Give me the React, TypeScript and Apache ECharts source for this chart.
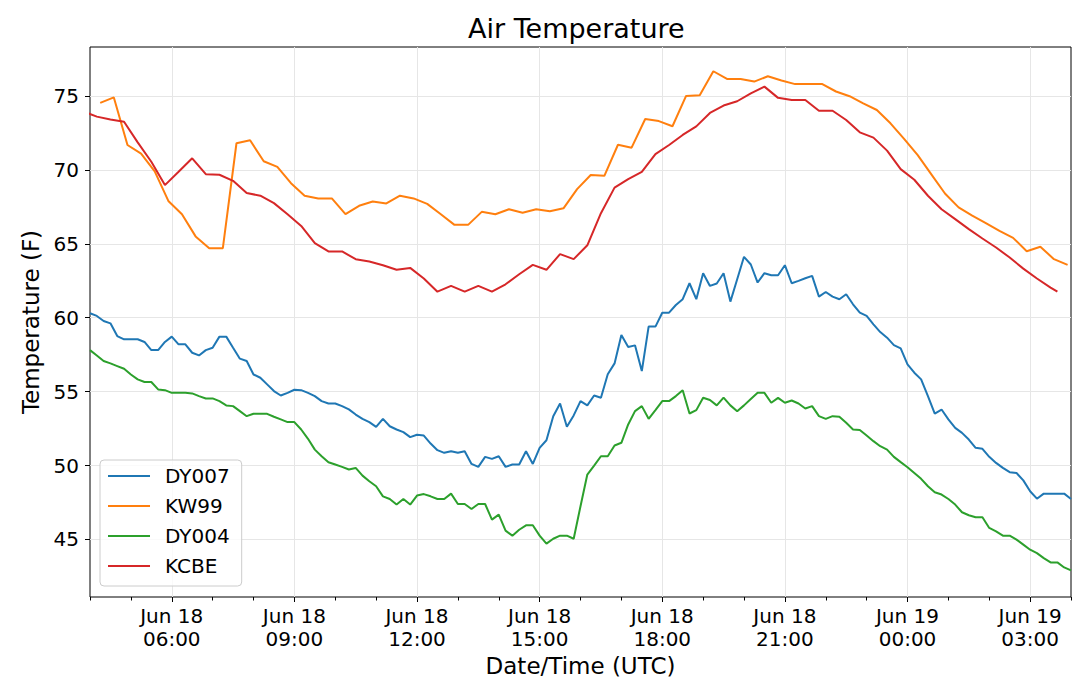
import { useEffect, useRef } from 'react'
import * as echarts from 'echarts'

// hours are counted from Jun 18 00:00 UTC
const BASE = Date.UTC(2019, 5, 18)
const HOUR = 3600 * 1000
const MONTHS = ['Jan', 'Feb', 'Mar', 'Apr', 'May', 'Jun', 'Jul', 'Aug', 'Sep', 'Oct', 'Nov', 'Dec']

const seriesNames = ['DY007', 'KW99', 'DY004', 'KCBE']
const colors = ['#1f77b4', '#ff7f0e', '#2ca02c', '#d62728']

// DY stations report every 10 minutes starting 04:00
const DY_START = 4
const DY_STEP = 1 / 6

const dy007 = [
  60.3, 60.12, 59.78, 59.62, 58.76, 58.54, 58.54, 58.54, 58.36, 57.81,
  57.81, 58.36, 58.72, 58.2, 58.2, 57.63, 57.45, 57.81, 57.97, 58.72,
  58.72, 57.97, 57.23, 57.07, 56.16, 55.94, 55.49, 55.04, 54.74, 54.92,
  55.13, 55.1, 54.92, 54.7, 54.36, 54.2, 54.2, 54.02, 53.8, 53.45,
  53.16, 52.94, 52.62, 53.16, 52.66, 52.44, 52.26, 51.92, 52.08, 52.03,
  51.49, 51.04, 50.86, 50.97, 50.86, 50.97, 50.11, 49.91, 50.59, 50.45,
  50.63, 49.91, 50.07, 50.07, 50.97, 50.11, 51.2, 51.71, 53.34, 54.2,
  52.62, 53.39, 54.36, 54.07, 54.74, 54.59, 56.17, 56.91, 58.83, 58.02,
  58.13, 56.39, 59.4, 59.4, 60.34, 60.34, 60.86, 61.25, 62.33, 61.25,
  63.01, 62.15, 62.31, 63.01, 61.09, 62.6, 64.12, 63.6, 62.38, 63.01,
  62.87, 62.87, 63.55, 62.33, 62.49, 62.67, 62.83, 61.43, 61.74, 61.43,
  61.25, 61.59, 60.91, 60.34, 60.12, 59.55, 59.03, 58.65, 58.15, 57.93,
  56.84, 56.28, 55.83, 54.7, 53.52, 53.79, 53.12, 52.55, 52.21, 51.76,
  51.2, 51.13, 50.59, 50.18, 49.84, 49.55, 49.5, 49.0, 48.26, 47.76,
  48.1, 48.1, 48.1, 48.1, 47.74
]

const dy004 = [
  57.81, 57.45, 57.07, 56.91, 56.73, 56.55, 56.16, 55.83, 55.65, 55.65,
  55.15, 55.1, 54.92, 54.92, 54.92, 54.88, 54.7, 54.54, 54.54, 54.36,
  54.07, 54.02, 53.68, 53.34, 53.5, 53.5, 53.5, 53.3, 53.12, 52.94,
  52.94, 52.44, 51.81, 51.08, 50.63, 50.22, 50.07, 49.91, 49.73, 49.84,
  49.32, 48.94, 48.6, 47.92, 47.74, 47.36, 47.74, 47.36, 47.97, 48.07,
  47.92, 47.74, 47.74, 48.1, 47.4, 47.4, 47.06, 47.4, 47.4, 46.34,
  46.68, 45.6, 45.26, 45.66, 45.96, 45.96, 45.26, 44.72, 45.05, 45.26,
  45.26, 45.05, 47.25, 49.39, 50.0, 50.63, 50.63, 51.36, 51.54, 52.78,
  53.68, 54.02, 53.16, 53.75, 54.36, 54.36, 54.7, 55.1, 53.52, 53.75,
  54.59, 54.43, 54.07, 54.59, 54.07, 53.68, 54.07, 54.5, 54.92, 54.92,
  54.25, 54.58, 54.25, 54.4, 54.2, 53.86, 54.02, 53.34, 53.16, 53.34,
  53.3, 52.89, 52.44, 52.4, 52.03, 51.65, 51.31, 51.08, 50.59, 50.23,
  49.89, 49.5, 49.1, 48.6, 48.19, 48.04, 47.74, 47.36, 46.84, 46.64,
  46.5, 46.5, 45.78, 45.55, 45.26, 45.26, 44.99, 44.65, 44.31, 44.08,
  43.74, 43.45, 43.45, 43.11, 42.91
]

// KW99 every 20 minutes starting 04:15
const KW99_START = 4.25
const KW99_STEP = 1 / 3

const kw99 = [
  74.53, 74.9, 71.68, 71.1, 69.9, 67.9, 67.0, 65.5, 64.7, 64.7,
  71.8, 72.0, 70.58, 70.2, 69.1, 68.25, 68.07, 68.07, 67.0, 67.57,
  67.86, 67.73, 68.25, 68.07, 67.7, 67.0, 66.28, 66.28, 67.16, 67.0,
  67.34, 67.1, 67.34, 67.2, 67.4, 68.7, 69.65, 69.6, 71.7, 71.5,
  73.44, 73.3, 72.95, 75.0, 75.05, 76.67, 76.15, 76.15, 75.97, 76.33,
  76.04, 75.8, 75.8, 75.8, 75.3, 74.98, 74.5, 74.05, 73.15, 72.1,
  71.0, 69.7, 68.4, 67.46, 66.9, 66.4, 65.87, 65.4, 64.5, 64.8,
  63.96, 63.57
]

// KCBE as [hour, value]
const kcbe: [number, number][] = [
  [3.833, 73.95], [4.167, 73.6], [4.5, 73.4], [4.833, 73.25], [5.167, 71.86],
  [5.5, 70.55], [5.833, 68.97], [6.167, 69.87], [6.5, 70.78], [6.833, 69.71],
  [7.167, 69.67], [7.5, 69.26], [7.833, 68.43], [8.167, 68.25], [8.5, 67.75],
  [8.833, 67.0], [9.167, 66.21], [9.5, 65.04], [9.833, 64.48], [10.167, 64.48],
  [10.5, 63.96], [10.833, 63.8], [11.167, 63.55], [11.5, 63.24], [11.833, 63.37],
  [12.167, 62.65], [12.5, 61.76], [12.833, 62.15], [13.167, 61.76], [13.5, 62.15],
  [13.833, 61.76], [14.167, 62.26], [14.5, 62.94], [14.833, 63.57], [15.167, 63.24],
  [15.5, 64.3], [15.833, 63.96], [16.167, 64.9], [16.5, 67.07], [16.833, 68.8],
  [17.167, 69.38], [17.5, 69.87], [17.833, 71.07], [18.167, 71.68], [18.5, 72.36],
  [18.833, 72.94], [19.167, 73.85], [19.5, 74.35], [19.833, 74.64], [20.167, 75.18],
  [20.5, 75.63], [20.833, 74.87], [21.167, 74.73], [21.5, 74.73], [21.833, 74.0],
  [22.167, 74.0], [22.5, 73.37], [22.833, 72.54], [23.167, 72.18], [23.5, 71.3],
  [23.833, 70.05], [24.167, 69.33], [24.5, 68.25], [24.833, 67.34], [25.167, 66.67],
  [25.5, 65.99], [25.833, 65.36], [26.167, 64.75], [26.5, 64.07], [26.833, 63.32],
  [27.167, 62.65], [27.5, 62.04], [27.667, 61.76]
]

const majorHours = [6, 9, 12, 15, 18, 21, 24, 27]
const minorHours = [4, 5, 6, 7, 8, 9, 10, 11, 12, 13, 14, 15, 16, 17, 18, 19, 20, 21, 22, 23, 24, 25, 26, 27, 28]
const yTicks = [45, 50, 55, 60, 65, 70, 75]

const hr = (h: number) => BASE + h * HOUR

function fmtTime(v: number) {
  const d = new Date(v)
  const hh = String(d.getUTCHours()).padStart(2, '0')
  const mm = String(d.getUTCMinutes()).padStart(2, '0')
  return `${MONTHS[d.getUTCMonth()]} ${d.getUTCDate()}\n${hh}:${mm}`
}

function TemperatureChart() {
  const chartRef = useRef<HTMLDivElement>(null)

  useEffect(() => {
    if (!chartRef.current) return
    const chart = echarts.init(chartRef.current, undefined, { renderer: 'svg' })

    const tickLine = { color: '#000', width: 1 }
    const gridLine = { color: '#e6e6e6', width: 1 }

    const seriesData = [
      dy007.map((v, i) => [hr(DY_START + i * DY_STEP), v]),
      kw99.map((v, i) => [hr(KW99_START + i * KW99_STEP), v]),
      dy004.map((v, i) => [hr(DY_START + i * DY_STEP), v]),
      kcbe.map(([h, v]) => [hr(h), v])
    ]

    chart.setOption({
      animation: false,
      textStyle: { fontFamily: 'DejaVu Sans', color: '#000' },
      title: {
        text: 'Air Temperature',
        left: 468,
        top: 15,
        padding: 0,
        textStyle: { fontSize: 27, lineHeight: 27, fontWeight: 'normal', color: '#000' }
      },
      legend: {
        data: seriesNames,
        orient: 'vertical',
        left: 100,
        top: 460,
        icon: 'rect',
        itemWidth: 42,
        itemHeight: 2,
        itemGap: 10,
        padding: [6, 12, 10, 8],
        backgroundColor: 'rgba(255,255,255,0.8)',
        borderColor: '#cccccc',
        borderWidth: 1,
        borderRadius: 4,
        textStyle: { fontSize: 20, lineHeight: 20, color: '#000', padding: [0, 0, 0, 10] }
      },
      grid: {
        left: 90,
        right: 9,
        top: 47,
        bottom: 96,
        show: true,
        borderColor: '#000',
        borderWidth: 1,
        backgroundColor: 'transparent'
      },
      xAxis: [
        {
          type: 'value',
          min: hr(4),
          max: hr(28),
          position: 'bottom',
          name: 'Date/Time (UTC)',
          nameLocation: 'middle',
          nameGap: 56,
          nameTextStyle: { fontSize: 23, color: '#000' },
          axisLine: { show: false },
          axisTick: { show: true, length: 5, customValues: majorHours.map(hr), lineStyle: tickLine },
          axisLabel: {
            customValues: majorHours.map(hr),
            formatter: fmtTime,
            fontSize: 20,
            lineHeight: 23,
            color: '#000',
            margin: 7
          },
          splitLine: { show: true, lineStyle: gridLine }
        },
        {
          type: 'value',
          min: hr(4),
          max: hr(28),
          position: 'bottom',
          axisLine: { show: false },
          axisTick: { show: true, length: 3.5, customValues: minorHours.map(hr), lineStyle: tickLine },
          axisLabel: { show: false },
          splitLine: { show: false }
        }
      ],
      yAxis: {
        type: 'value',
        min: 41.11,
        max: 78.31,
        name: 'Temperature (F)',
        nameLocation: 'middle',
        nameGap: 45,
        nameRotate: 90,
        nameTextStyle: { fontSize: 23, color: '#000' },
        axisLine: { show: false },
        axisTick: { show: true, length: 5, customValues: yTicks, lineStyle: tickLine },
        axisLabel: { customValues: yTicks, fontSize: 20, color: '#000', margin: 11 },
        splitLine: { show: true, lineStyle: gridLine }
      },
      series: seriesNames.map((name, i) => ({
        name,
        type: 'line',
        xAxisIndex: 0,
        data: seriesData[i],
        showSymbol: false,
        symbol: 'none',
        clip: true,
        color: colors[i],
        lineStyle: { color: colors[i], width: 2 }
      }))
    })

    return () => {
      chart.dispose()
    }
  }, [])

  return (
    <div
      ref={chartRef}
      style={{ position: 'fixed', left: 0, top: 0, width: 1080, height: 693, background: '#fff' }}
    />
  )
}

export default function App() {
  return <TemperatureChart />
}
